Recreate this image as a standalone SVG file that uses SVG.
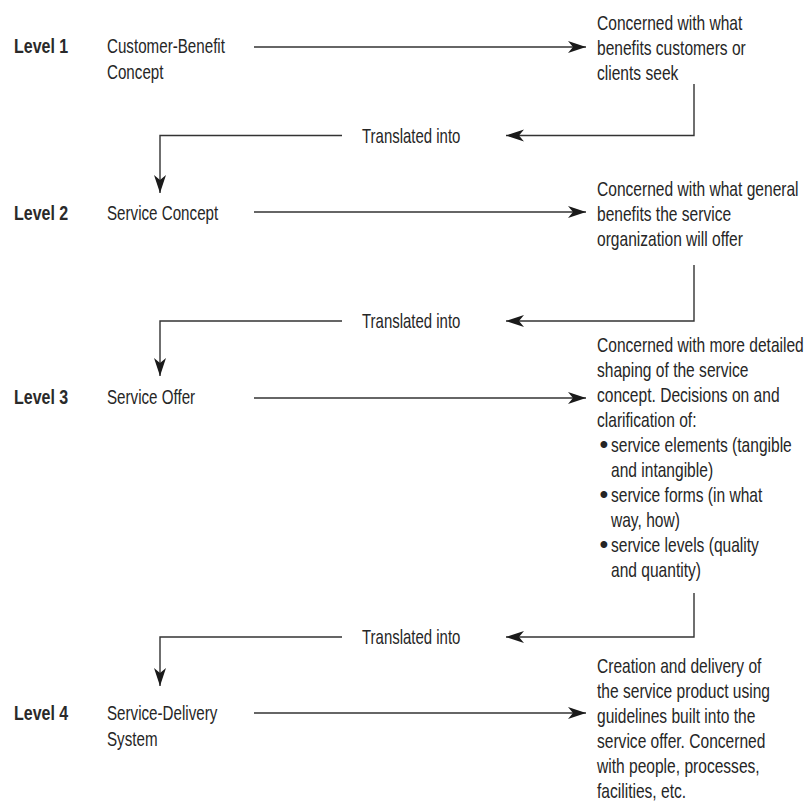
<svg xmlns="http://www.w3.org/2000/svg" width="807" height="810" viewBox="0 0 807 810">
<style>
text{font-family:"Liberation Sans",Arial,sans-serif;font-size:20.5px;fill:#262626}
.lvl{font-weight:bold;fill:#2a2a2a}
.bul{font-size:25px}
.ln{fill:none;stroke:#333;stroke-width:1.4}
</style>
<defs>
<marker id="ah" markerUnits="userSpaceOnUse" viewBox="-19 -7 20 14" refX="0" refY="0" markerWidth="20" markerHeight="14" orient="auto">
<path d="M0,0 L-18,-6 L-13,0 L-18,6 Z" fill="#1a1a1a"/>
</marker>
</defs>
<rect width="807" height="810" fill="#fff"/>

<g id="connectors">
<line class="ln" x1="254" y1="47" x2="586" y2="47" marker-end="url(#ah)"/>
<polyline class="ln" points="694,84 694,135.5 506,135.5" marker-end="url(#ah)"/>
<polyline class="ln" points="342,135.5 160,135.5 160,193" marker-end="url(#ah)"/>
<line class="ln" x1="254" y1="212" x2="586" y2="212" marker-end="url(#ah)"/>
<polyline class="ln" points="694,265 694,321 506,321" marker-end="url(#ah)"/>
<polyline class="ln" points="342,321 160,321 160,376" marker-end="url(#ah)"/>
<line class="ln" x1="254" y1="398" x2="586" y2="398" marker-end="url(#ah)"/>
<polyline class="ln" points="694,593 694,637 506,637" marker-end="url(#ah)"/>
<polyline class="ln" points="342,637 160,637 160,686" marker-end="url(#ah)"/>
<line class="ln" x1="254" y1="713" x2="586" y2="713" marker-end="url(#ah)"/>
<g transform="translate(362,0) scale(0.73,1)">
<text x="0" y="143">Translated into</text>
<text x="0" y="328">Translated into</text>
<text x="0" y="644">Translated into</text>
</g>
</g>

<g transform="translate(14,0) scale(0.78,1)">
<g id="level1"><text class="lvl" x="0" y="53">Level 1</text></g>
<g id="level2"><text class="lvl" x="0" y="220">Level 2</text></g>
<g id="level3"><text class="lvl" x="0" y="404">Level 3</text></g>
<g id="level4"><text class="lvl" x="0" y="720">Level 4</text></g>
</g>

<g transform="translate(107,0) scale(0.74,1)">
<g id="customer-benefit-concept">
<text x="0" y="53">Customer-Benefit</text>
<text x="0" y="79">Concept</text>
</g>
<g id="service-concept"><text x="0" y="220">Service Concept</text></g>
<g id="service-offer"><text x="0" y="404">Service Offer</text></g>
<g id="service-delivery-system">
<text x="0" y="720">Service-Delivery</text>
<text x="0" y="746">System</text>
</g>
</g>

<g id="desc1" transform="translate(597,0) scale(0.76,1)">
<text x="0" y="30">Concerned with what</text>
<text x="0" y="55">benefits customers or</text>
<text x="0" y="80">clients seek</text>
</g>
<g id="desc2" transform="translate(597,0) scale(0.76,1)">
<text x="0" y="196">Concerned with what general</text>
<text x="0" y="221">benefits the service</text>
<text x="0" y="246">organization will offer</text>
</g>
<g id="desc3">
<g transform="translate(597,0) scale(0.76,1)">
<text x="0" y="352">Concerned with more detailed</text>
<text x="0" y="377">shaping of the service</text>
<text x="0" y="402">concept. Decisions on and</text>
<text x="0" y="427">clarification of:</text>
<text x="18.4" y="452">service elements (tangible</text>
<text x="18.4" y="477">and intangible)</text>
<text x="18.4" y="502">service forms (in what</text>
<text x="18.4" y="527">way, how)</text>
<text x="18.4" y="552">service levels (quality</text>
<text x="18.4" y="577">and quantity)</text>
</g>
<text class="bul" x="599.5" y="453">•</text>
<text class="bul" x="599.5" y="503">•</text>
<text class="bul" x="599.5" y="553">•</text>
</g>
<g id="desc4" transform="translate(597,0) scale(0.76,1)">
<text x="0" y="673">Creation and delivery of</text>
<text x="0" y="698">the service product using</text>
<text x="0" y="723">guidelines built into the</text>
<text x="0" y="748">service offer. Concerned</text>
<text x="0" y="773">with people, processes,</text>
<text x="0" y="798">facilities, etc.</text>
</g>
</svg>
